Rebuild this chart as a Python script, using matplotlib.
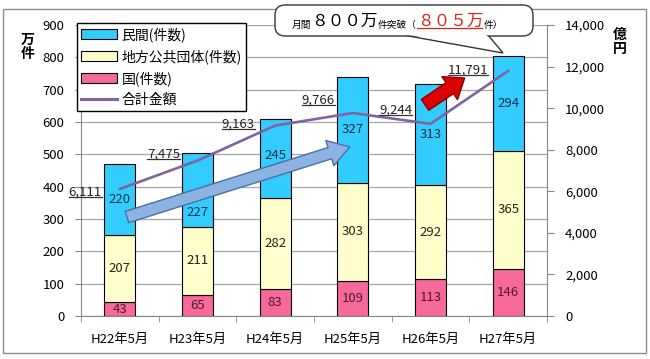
import matplotlib
matplotlib.use('Agg')
from matplotlib import pyplot as plt
from matplotlib.patches import Rectangle, FancyArrowPatch, FancyBboxPatch, Polygon, Patch
from matplotlib.lines import Line2D
from matplotlib.transforms import IdentityTransform
import numpy as np

plt.rcParams['font.family'] = ['Noto Sans CJK JP', 'DejaVu Sans']

# data
categories = ['H22年5月', 'H23年5月', 'H24年5月', 'H25年5月', 'H26年5月', 'H27年5月']
kuni = [43, 65, 83, 109, 113, 146]          # 国(件数)
chiho = [207, 211, 282, 303, 292, 365]      # 地方公共団体(件数)
minkan = [220, 227, 245, 327, 313, 294]     # 民間(件数)
kingaku = [6111, 7475, 9163, 9766, 9244, 11791]  # 合計金額 (億円)

# label offsets for the amount labels (points)
label_offsets = [(-25, -2), (-24.5, 5), (-26.5, 1), (-25, 9.5), (-25, 10), (-29, 0.7)]
# vertical nudge of the 民間 labels (points), keep them clear of the arrow
minkan_nudge = [0, -16, 2, 0, 0, 0]

c_minkan = '#33CCFF'
c_chiho = '#FFFFCC'
c_kuni = '#F6699A'
c_line = '#8064A2'
c_grid = '#A6A6A6'
c_axis = '#868686'

fig = plt.figure(figsize=(6.5, 3.59), dpi=100)
ax = fig.add_axes([81/650, 1-316/359, 466/650, 291/359])
ax2 = ax.twinx()

x = np.arange(len(categories))
w = 0.4
b1 = np.array(kuni)
b2 = b1 + np.array(chiho)
ax.bar(x, kuni, w, color=c_kuni, edgecolor='black', linewidth=0.8, zorder=2)
ax.bar(x, chiho, w, bottom=b1, color=c_chiho, edgecolor='black', linewidth=0.8, zorder=2)
ax.bar(x, minkan, w, bottom=b2, color=c_minkan, edgecolor='black', linewidth=0.8, zorder=2)

for i in range(len(x)):
    ax.text(x[i], kuni[i]/2, str(kuni[i]), ha='center', va='center', fontsize=9.5, color='#4A1A2A', zorder=3)
    ax.text(x[i], b1[i]+chiho[i]/2, str(chiho[i]), ha='center', va='center', fontsize=9.5, color='#222222', zorder=3)
    ax.annotate(str(minkan[i]), xy=(x[i], b2[i]+minkan[i]/2), xytext=(0, minkan_nudge[i]),
                textcoords='offset points', ha='center', va='center', fontsize=9.5, color='#13304A', zorder=3)

ax.set_xlim(-0.5, 5.5)
ax.set_ylim(0, 900)
ax.set_yticks(range(0, 901, 100))
ax.yaxis.grid(True, color=c_grid, linewidth=0.9)
ax.set_axisbelow(True)
ax.set_xticks(x)
ax.set_xticklabels(categories)
ax.set_xticks(np.arange(-0.5, 6, 1), minor=True)
ax.tick_params(axis='x', which='major', length=0, pad=12, labelsize=9.5)
ax.tick_params(axis='x', which='minor', length=4, color=c_axis, direction='out')
ax.tick_params(axis='y', length=4, color=c_axis, pad=8, labelsize=9.5)
for s in ['top', 'right']:
    ax.spines[s].set_visible(False)
for s in ['left', 'bottom']:
    ax.spines[s].set_color(c_axis)

ax2.plot(x, kingaku, color=c_line, linewidth=1.9, zorder=4)
ax2.set_ylim(0, 14000)
ax2.set_yticks(range(0, 14001, 2000))
ax2.set_yticklabels([f'{v:,}' for v in range(0, 14001, 2000)])
ax2.tick_params(axis='y', length=5, color=c_axis, pad=8, labelsize=9.5)
for s in ['top', 'left', 'bottom']:
    ax2.spines[s].set_visible(False)
ax2.spines['right'].set_color(c_axis)

amount_labels = []
for i, v in enumerate(kingaku):
    t = ax2.annotate(f'{v:,}', xy=(x[i], v), xytext=label_offsets[i], textcoords='offset points',
                     ha='center', va='center', fontsize=9.5, color='#222222', zorder=5)
    amount_labels.append(t)

# arrows
ax2.add_patch(FancyArrowPatch((0.092, 306*14000/900), (2.96, 523*14000/900),
                              arrowstyle='simple,head_width=19,head_length=15,tail_width=8.5',
                              mutation_scale=1, facecolor='#8DB3E2', edgecolor='#4A6FA5',
                              linewidth=1, zorder=6, shrinkA=0, shrinkB=0))
ax2.add_patch(FancyArrowPatch((3.93, 653*14000/900), (4.44, 736*14000/900),
                              arrowstyle='simple,head_width=20,head_length=13,tail_width=9.5',
                              mutation_scale=1, facecolor='#DD0000', edgecolor='#8B0000',
                              linewidth=1, zorder=6, shrinkA=0, shrinkB=0))

# legend
handles = [Patch(facecolor=c_minkan, edgecolor='black', linewidth=0.8),
           Patch(facecolor=c_chiho, edgecolor='black', linewidth=0.8),
           Patch(facecolor=c_kuni, edgecolor='black', linewidth=0.8),
           Line2D([0], [0], color=c_line, linewidth=2.2)]
leg = fig.legend(handles, ['民間(件数)', '地方公共団体(件数)', '国(件数)', '合計金額'],
                 loc='upper left', bbox_to_anchor=(77/650, 1-23/359), fontsize=10,
                 frameon=True, fancybox=False, framealpha=1, edgecolor='black',
                 borderpad=0.3, labelspacing=0.5, handlelength=2.6, handleheight=0.7,
                 handletextpad=0.3, borderaxespad=0)
leg.get_frame().set_linewidth(1)
leg.set_zorder(10)

# axis titles
fig.text(28/650, 1-47/359, '万\n件', ha='center', va='center', fontsize=10, fontweight='bold', linespacing=1.0)
fig.text(620/650, 1-42/359, '億\n円', ha='center', va='center', fontsize=10, fontweight='bold', linespacing=1.0)

# outer frame
fig.add_artist(Rectangle((3/650, 1-353/359), 643/650, 344/359, transform=fig.transFigure,
                         fill=False, edgecolor='#8C8C8C', linewidth=1, zorder=0))

# callout bubble (inches)
tail = Polygon([(4.03, 3.59-0.35), (5.03, 3.59-0.53), (4.88, 3.59-0.35)], closed=True,
               transform=fig.dpi_scale_trans, facecolor='white', edgecolor='#333333', linewidth=1, zorder=11)
box = FancyBboxPatch((2.75, 3.59-0.36), 2.58, 0.31, boxstyle='round,pad=0,rounding_size=0.1',
                     transform=fig.dpi_scale_trans, facecolor='white', edgecolor='#333333', linewidth=1, zorder=12)
cover = Polygon([(4.06, 3.59-0.345), (5.0, 3.59-0.51), (4.86, 3.59-0.345), (4.86, 3.59-0.3), (4.06, 3.59-0.3)],
                closed=True, transform=fig.dpi_scale_trans, facecolor='white', edgecolor='none', zorder=13)
for p in (tail, box, cover):
    fig.add_artist(p)

pieces = [('月間', 7, 'black'), ('８００万', 12, 'black'), ('件突破（', 7, 'black'),
          ('８０５万', 12, '#E0201B'), ('件）', 7, 'black')]
prev = fig.text(292/650, 1-30/359, pieces[0][0], fontsize=pieces[0][1], color=pieces[0][2],
                ha='left', va='bottom', zorder=14)
call_texts = [prev]
for s, fs, col in pieces[1:]:
    prev = fig.text(0, 0, s, fontsize=fs, color=col, ha='left', va='bottom', zorder=14)
    call_texts.append(prev)

fig.canvas.draw()
r = fig.canvas.get_renderer()
# chain the callout pieces left to right
for k in range(1, len(call_texts)):
    bb = call_texts[k-1].get_window_extent(r)
    call_texts[k].set_position((bb.x1/fig.bbox.width, call_texts[0].get_position()[1]))
fig.canvas.draw()

# underlines
for t in amount_labels:
    bb = t.get_window_extent(r)
    fig.add_artist(Line2D([bb.x0, bb.x1], [bb.y0+1.5, bb.y0+1.5], transform=IdentityTransform(),
                          color='#333333', linewidth=0.9, zorder=15))
bb = call_texts[3].get_window_extent(r)
fig.add_artist(Line2D([bb.x0, bb.x1-2], [bb.y0+2, bb.y0+2], transform=IdentityTransform(),
                      color='#E0201B', linewidth=0.9, zorder=15))

fig.savefig('out.png', dpi=100)
